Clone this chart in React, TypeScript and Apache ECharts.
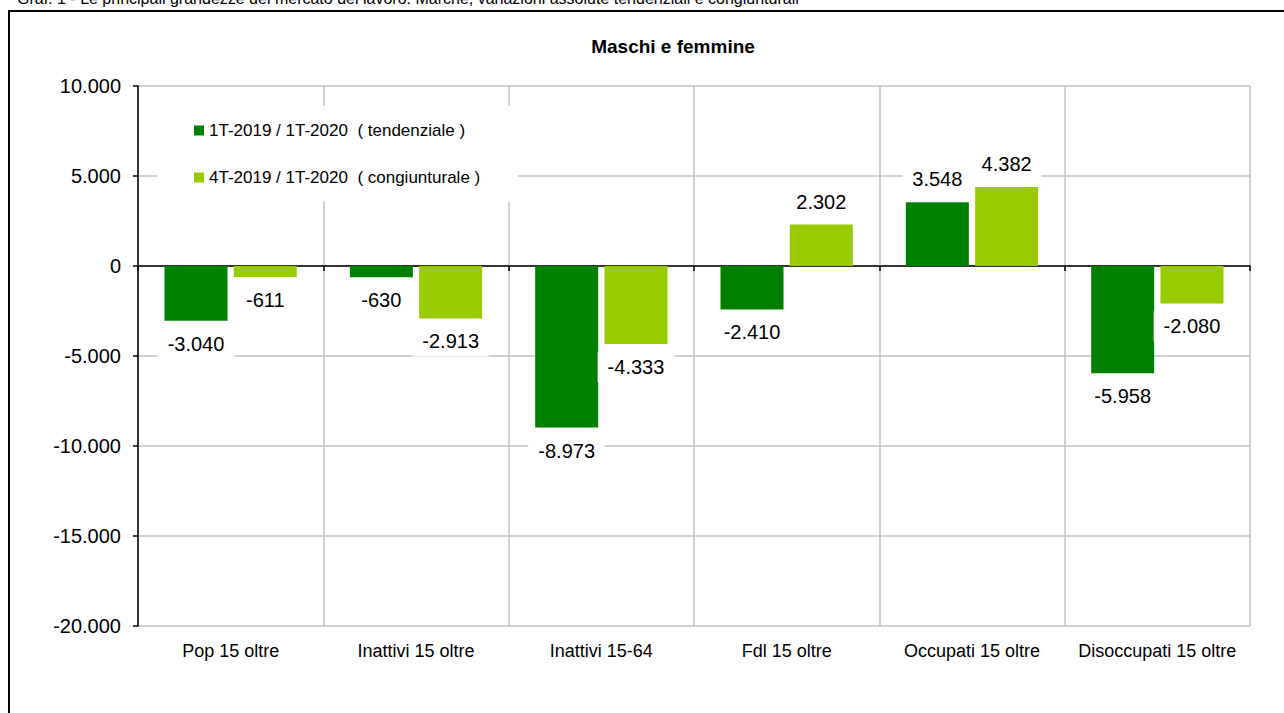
import React, { useEffect, useRef } from "react";
import * as echarts from "echarts";

const caption =
  "Graf. 1 - Le principali grandezze del mercato del lavoro. Marche, variazioni assolute tendenziali e congiunturali";
const chartTitle = "Maschi e femmine";
const categories = [
  "Pop 15 oltre",
  "Inattivi 15 oltre",
  "Inattivi 15-64",
  "Fdl 15 oltre",
  "Occupati 15 oltre",
  "Disoccupati 15 oltre",
];
const seriesNames = [
  "1T-2019 / 1T-2020  ( tendenziale )",
  "4T-2019 / 1T-2020  ( congiunturale )",
];
const tendenziale = [-3040, -630, -8973, -2410, 3548, -5958];
const congiunturale = [-611, -2913, -4333, 2302, 4382, -2080];
const yMin = -20000;
const yMax = 10000;
const yStep = 5000;

const FONT = "'Liberation Sans', Arial, sans-serif";

function fmt(v: number): string {
  const s = Math.abs(Math.round(v)).toString().replace(/\B(?=(\d{3})+(?!\d))/g, ".");
  return (v < 0 ? "-" : "") + s;
}

function makeData(values: number[]) {
  return values.map((v) => ({
    value: v,
    label: { position: v < 0 ? "bottom" : "top" },
  }));
}

export default function App() {
  const ref = useRef<HTMLDivElement>(null);
  useEffect(() => {
    if (!ref.current) return;
    const chart = echarts.init(ref.current, null, { renderer: "svg" });
    const labelStyle = {
      show: true,
      distance: 8,
      fontSize: 20,
      fontFamily: FONT,
      color: "#000",
      backgroundColor: "#fff",
      padding: [5, 10, 5, 10],
      formatter: (p: any) => fmt(p.value),
    };
    chart.setOption({
      animation: false,
      backgroundColor: "#fff",
      textStyle: { fontFamily: FONT },
      graphic: [
        {
          type: "rect",
          shape: { x: 9, y: 11, width: 1320, height: 740 },
          style: { fill: "none", stroke: "#000", lineWidth: 2 },
          z: 100,
        },
        {
          type: "text",
          x: 17,
          y: -2,
          style: {
            text: caption,
            fontSize: 16,
            fontFamily: FONT,
            fill: "#000",
            verticalAlign: "middle",
          },
        },
        {
          type: "text",
          x: 673,
          y: 46,
          style: {
            text: chartTitle,
            fontSize: 19,
            fontWeight: "bold",
            fontFamily: FONT,
            fill: "#000",
            align: "center",
            verticalAlign: "middle",
          },
        },
      ],
      legend: {
        orient: "vertical",
        left: 157,
        top: 106,
        padding: [16, 38, 16, 37],
        backgroundColor: "#fff",
        itemWidth: 10,
        itemHeight: 10,
        itemGap: 30,
        itemTextGap: 4,
        icon: "rect",
        textStyle: { fontSize: 17, fontFamily: FONT, color: "#000" },
        data: seriesNames,
        z: 10,
      },
      grid: { left: 138, right: 34, top: 86, bottom: 87, containLabel: false },
      xAxis: [
        {
          type: "category",
          data: categories,
          position: "bottom",
          axisLine: { show: false, onZero: false },
          axisTick: { show: false },
          axisLabel: {
            fontSize: 18,
            fontFamily: FONT,
            color: "#000",
            margin: 16,
            interval: 0,
          },
          splitLine: {
            show: true,
            interval: 0,
            lineStyle: { color: "#c0c0c0", width: 1.5 },
          },
        },
        {
          type: "category",
          data: categories,
          position: "top",
          axisLine: { show: true, onZero: true, lineStyle: { color: "#000", width: 1.5 } },
          axisTick: { show: true, inside: true, length: 5, lineStyle: { color: "#000", width: 1.5 } },
          axisLabel: { show: false },
          splitLine: { show: false },
        },
      ],
      yAxis: {
        type: "value",
        min: yMin,
        max: yMax,
        interval: yStep,
        axisLine: { show: true, lineStyle: { color: "#000", width: 1.5 } },
        axisTick: { show: true, length: 5, lineStyle: { color: "#000", width: 1.5 } },
        axisLabel: {
          fontSize: 20,
          fontFamily: FONT,
          color: "#000",
          margin: 17,
          formatter: (v: number) => fmt(v),
        },
        splitLine: { show: true, lineStyle: { color: "#c0c0c0", width: 1.5 } },
      },
      series: [
        {
          name: seriesNames[0],
          type: "bar",
          xAxisIndex: 0,
          barWidth: 63,
          barGap: "10%",
          itemStyle: { color: "#008000" },
          label: labelStyle,
          data: makeData(tendenziale),
        },
        {
          name: seriesNames[1],
          type: "bar",
          xAxisIndex: 0,
          barWidth: 63,
          barGap: "10%",
          itemStyle: { color: "#99cc00" },
          label: labelStyle,
          data: makeData(congiunturale),
        },
      ],
    });
    return () => chart.dispose();
  }, []);
  return (
    <div
      ref={ref}
      style={{ position: "fixed", left: 0, top: 0, width: 1284, height: 713 }}
    />
  );
}
